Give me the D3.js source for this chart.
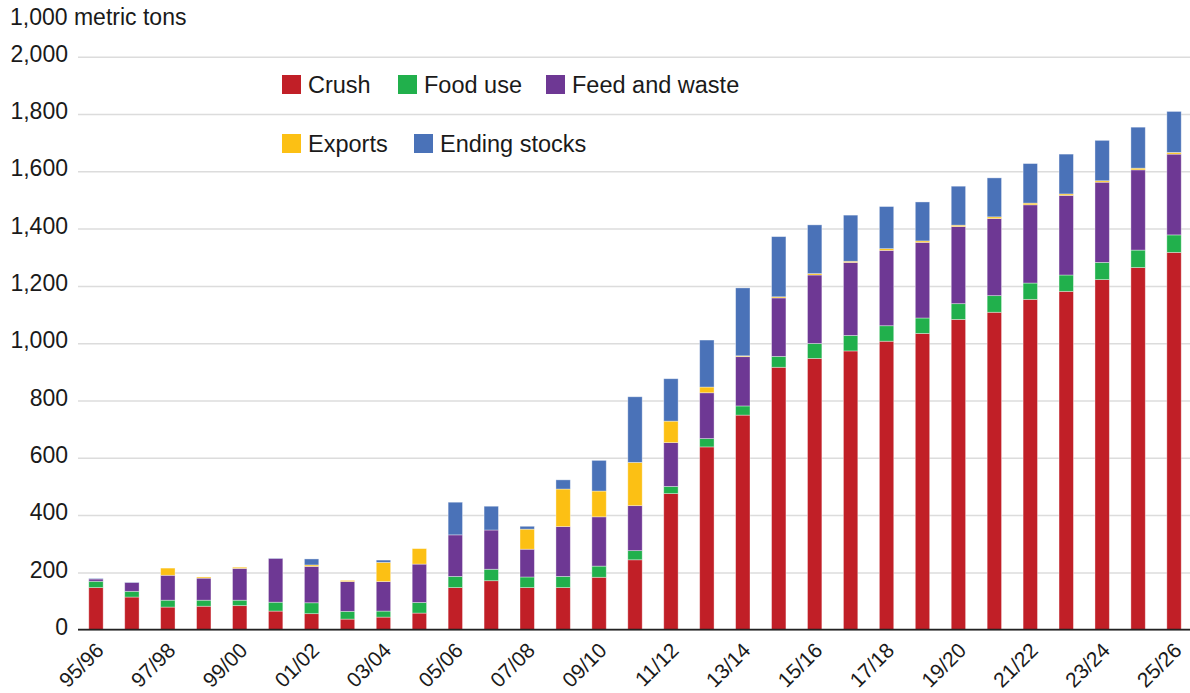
<!DOCTYPE html>
<html>
  <head>
    <meta charset="utf-8">
    <style>
      body { margin: 0; background: #fff; }
      text { font-family: "Liberation Sans", Arial, sans-serif; fill: #1a1a1a; }
    </style>
  </head>
  <body>
    <div id="chart"></div>
    <script src="https://d3js.org/d3.v7.min.js"></script>
    <script>

    // ---------------------------------------------------- data (1,000 metric tons)
    var years = ["95/96","96/97","97/98","98/99","99/00","00/01","01/02","02/03","03/04","04/05",
                 "05/06","06/07","07/08","08/09","09/10","10/11","11/12","12/13","13/14","14/15",
                 "15/16","16/17","17/18","18/19","19/20","20/21","21/22","22/23","23/24","24/25","25/26"];

    var crush   = [147,114,79,82,84,65,56,37,44,58,147,171,147,147,183,244,475,638,749,916,
                   947,973,1007,1034,1083,1108,1153,1181,1222,1264,1317];
    var foodUse = [22,20,24,21,19,31,38,27,21,37,39,40,37,39,39,32,25,29,32,38,
                   52,54,54,54,55,58,57,57,60,61,61];
    var feed    = [8,31,87,77,111,153,127,104,103,134,145,137,97,174,172,157,153,160,172,204,
                   239,255,263,264,269,269,273,278,280,280,282];
    var exportsV= [0,0,25,4,4,0,5,4,67,54,0,0,70,131,90,151,75,20,3,4,
                   5,4,6,5,5,6,6,5,5,6,6];
    var stocks  = [2,1,0,0,0,1,21,0,8,0,114,83,10,32,107,229,148,164,237,210,
                   170,161,147,136,136,136,138,139,141,143,143];

    var keys   = ["crush","food","feed","exports","stocks"];
    var labels = ["Crush","Food use","Feed and waste","Exports","Ending stocks"];
    var colors = ["#c11f27","#21b04c","#6e3894","#fcc014","#4a72b8"];
    var yTicks = [0,200,400,600,800,1000,1200,1400,1600,1800,2000];

    var rows = years.map(function(y, i) {
      return {year: y, crush: crush[i], food: foodUse[i], feed: feed[i], exports: exportsV[i], stocks: stocks[i]};
    });

    //---------------------------------------------------- setup
    var width = 1190, height = 693;
    var plotLeft = 78, plotRight = 1192, plotTop = 56.7, plotBottom = 629.7;

    var svg = d3.select("#chart").append("svg")
        .attr("width", width)
        .attr("height", height);

    var x = d3.scaleBand()
        .domain(years)
        .range([plotLeft, plotRight])
        .paddingInner(0.6)
        .paddingOuter(0.3);

    var y = d3.scaleLinear()
        .domain([0, 2000])
        .range([plotBottom, plotTop]);

    var color = d3.scaleOrdinal().domain(keys).range(colors);

    // unit label
    svg.append("text")
        .attr("x", 10)
        .attr("y", 25)
        .style("font-size", "23px")
        .text("1,000 metric tons");

    // grid + y tick labels
    var yAxis = svg.append("g")
        .attr("transform", "translate(" + plotLeft + ",0)")
        .call(d3.axisLeft(y).tickValues(yTicks).tickFormat(d3.format(",")).tickSize(-(width - plotLeft)).tickPadding(10));
    yAxis.select(".domain").remove();
    yAxis.selectAll(".tick line")
        .attr("stroke", "#dcdcdc")
        .attr("stroke-width", 1.5);
    yAxis.selectAll(".tick text")
        .attr("dy", "0.2em")
        .style("font-size", "23px")
        .style("font-family", "Liberation Sans, Arial, sans-serif")
        .attr("fill", "#1a1a1a");

    // stacked bars
    var series = d3.stack().keys(keys)(rows);

    svg.append("g")
      .selectAll("g")
      .data(series)
      .enter().append("g")
        .attr("fill", function(d) { return color(d.key); })
      .selectAll("rect")
      .data(function(d) { return d; })
      .enter().append("rect")
        .attr("x", function(d) { return x(d.data.year); })
        .attr("y", function(d) { return y(d[1]); })
        .attr("height", function(d) { return y(d[0]) - y(d[1]); })
        .attr("width", x.bandwidth())
        .attr("stroke", "rgba(255,255,255,0.45)")
        .attr("stroke-width", 0.8);

    // x axis line
    var xAxis = svg.append("g")
        .attr("transform", "translate(0," + plotBottom + ")")
        .call(d3.axisBottom(x).tickSize(0).tickFormat(""));
    xAxis.select(".domain")
        .attr("d", "M" + plotLeft + ",0H" + width)
        .attr("stroke", "#222")
        .attr("stroke-width", 1.8);

    // rotated year labels, every other year
    svg.append("g")
      .selectAll("text")
      .data(years.filter(function(d, i) { return i % 2 === 0; }))
      .enter().append("text")
        .attr("text-anchor", "end")
        .attr("transform", function(d) {
          return "translate(" + (x(d) + x.bandwidth() / 2 + 9) + "," + (plotBottom + 22) + ") rotate(-45)";
        })
        .style("font-size", "21px")
        .text(function(d) { return d; });

    //---------------------------------------------------- legend
    var legendPos = [[282, 75], [398, 75], [546, 75], [282, 134], [414, 134]];
    var legend = svg.append("g")
      .selectAll("g")
      .data(keys)
      .enter().append("g")
        .attr("transform", function(d, i) { return "translate(" + legendPos[i][0] + "," + legendPos[i][1] + ")"; });

    legend.append("rect")
        .attr("width", 19)
        .attr("height", 19)
        .attr("fill", function(d) { return color(d); });

    legend.append("text")
        .attr("x", 26)
        .attr("y", 18)
        .style("font-size", "23.5px")
        .text(function(d, i) { return labels[i]; });

    </script>
  </body>
</html>
